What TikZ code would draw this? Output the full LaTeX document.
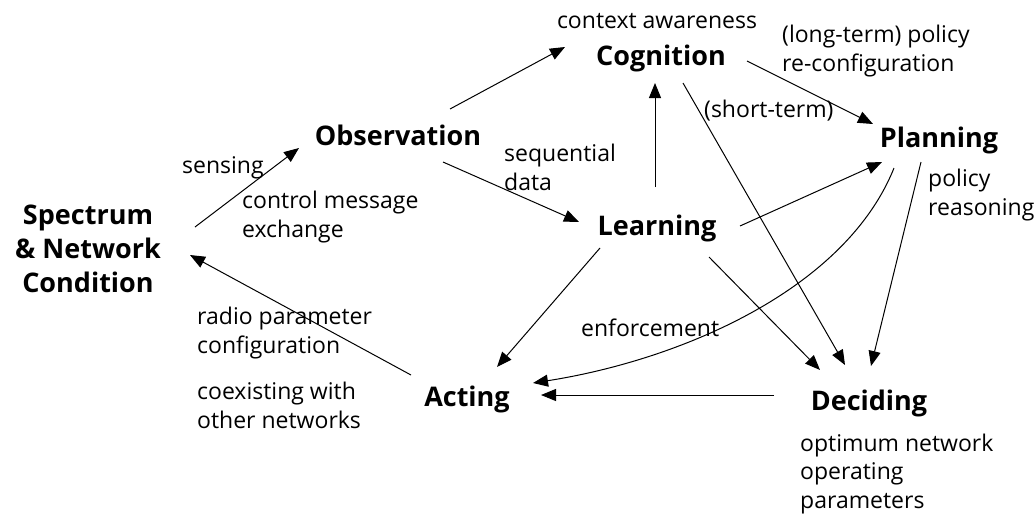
\documentclass[tikz,border=0pt]{standalone}
\usepackage{fontspec}
\setmainfont{Open Sans}
\usetikzlibrary{arrows.meta,calc}
\begin{document}
\begin{tikzpicture}[x=1pt,y=-1pt,
  big/.style={font=\fontsize{27}{34}\selectfont\bfseries, inner sep=0pt, align=center, anchor=base},
  lbl/.style={font=\fontsize{23}{28.5}\selectfont, inner sep=0pt, align=left, anchor=base west},
  arr/.style={line width=1pt, -{Triangle[length=15pt,width=12pt]}}]
\useasboundingbox (0,0) rectangle (1035,515);
% main nodes
\node[big] (spec) at (88,292) {Spectrum\\\& Network\\Condition};
\node[big] (obs) at (398,145) {Observation};
\node[big] (cog) at (661,65) {Cognition};
\node[big] (plan) at (939,147) {Planning};
\node[big] (learn) at (657,235) {Learning};
\node[big] (act) at (467,406) {Acting};
\node[big] (dec) at (869,410) {Deciding};
% labels
\node[lbl] (l1) at (182,173) {sensing};
\node[lbl] (l2) at (242,237) {control message\\exchange};
\node[lbl, anchor=base] (l3) at (657,28) {context awareness};
\node[lbl] (l4) at (782,71) {(long-term) policy\\re-configuration};
\node[lbl] (l5) at (704,117) {(short-term)};
\node[lbl] (l6) at (504,190) {sequential\\data};
\node[lbl] (l7) at (928,215) {policy\\reasoning};
\node[lbl] (l8) at (581,336) {enforcement};
\node[lbl] (l9) at (197,353) {radio parameter\\configuration};
\node[lbl] (l10) at (197,428) {coexisting with\\other networks};
\node[lbl] (l11) at (800,508) {optimum network\\operating\\parameters};
% connectors
\draw[arr] ($(spec.base)+(107,-65)$) -- ($(obs.base)+(-99,3)$);
\draw[arr] ($(obs.base)+(52,-36)$) -- ($(cog.base)+(-96,-18)$);
\draw[arr] ($(obs.base)+(45,17)$) -- ($(learn.base)+(-78,-13)$);
\draw[arr] ($(learn.base)+(-2,-48)$) -- ($(cog.base)+(-6,18)$);
\draw[arr] ($(cog.base)+(86,-4)$) -- ($(plan.base)+(-66,-23)$);
\draw[arr] ($(learn.base)+(83,-9)$) -- ($(plan.base)+(-57,15)$);
\draw[arr] ($(cog.base)+(22,18)$) -- ($(dec.base)+(-24,-45)$);
\draw[arr] ($(plan.base)+(-18,15)$) -- ($(dec.base)+(2,-44)$);
\draw[arr] ($(learn.base)+(52,22)$) -- ($(dec.base)+(-49,-40)$);
\draw[arr] ($(learn.base)+(-57,13)$) -- ($(act.base)+(30,-39)$);
\draw[arr] ($(plan.base)+(-45,21)$) .. controls ($(plan.base)+(-94,143)$) and ($(act.base)+(213,-46)$) .. ($(act.base)+(66,-23)$);
\draw[arr] ($(dec.base)+(-95,-15)$) -- ($(act.base)+(74,-11)$);
\draw[arr] ($(act.base)+(-56,-31)$) -- ($(spec.base)+(102,-37)$);
\end{tikzpicture}
\end{document}
